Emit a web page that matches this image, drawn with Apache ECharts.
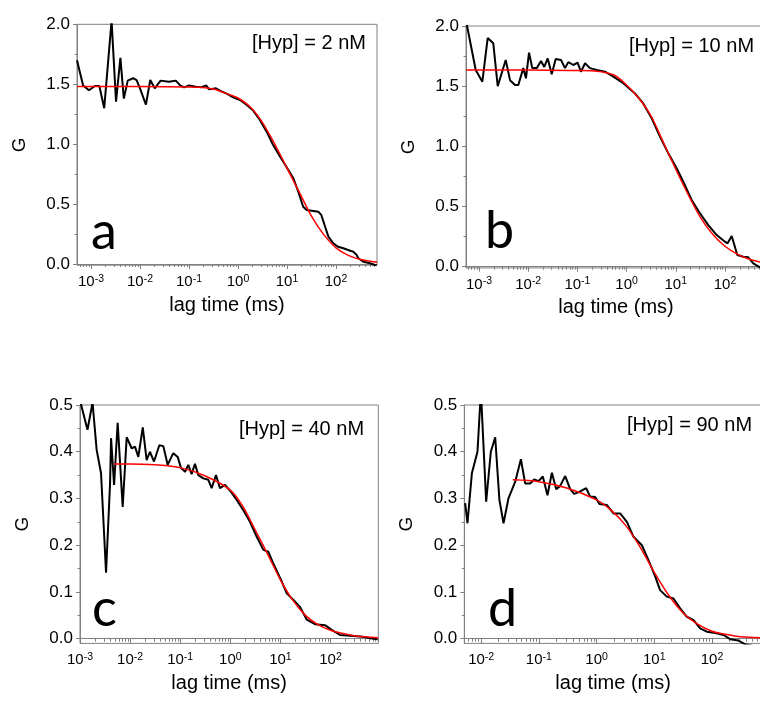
<!DOCTYPE html>
<html>
<head>
<meta charset="utf-8">
<title>FCS autocorrelation curves</title>
<script src="https://cdn.jsdelivr.net/npm/echarts@6/dist/echarts.min.js"></script>
<style>
  html, body { margin: 0; padding: 0; background: #fff; }
  #chart { width: 760px; height: 702px; }
</style>
</head>
<body>
<div id="chart"></div>
<script>
// ---- measured curves (lag time in ms, G) ----

// panel a, [Hyp] = 2 nM
const lagA = [5.18e-4, 6.9e-4, 9.1e-4, 1.2e-3, 1.48e-3, 1.86e-3, 2.63e-3, 3.24e-3, 3.98e-3, 4.68e-3,
  5.62e-3, 7.24e-3, 8.51e-3, 0.01, 0.0132, 0.0162, 0.02, 0.0263, 0.0389, 0.0537,
  0.0661, 0.0794, 0.1, 0.138, 0.174, 0.224, 0.257, 0.355, 0.447, 0.617,
  0.794, 1.1, 1.51, 2.04, 2.82, 3.89, 5.25, 7.24, 9.77, 13.5,
  17, 21.4, 25.2, 43.6, 50, 60, 70, 88, 110, 141,
  195, 225, 260, 285, 361, 494, 625, 680]
const gA = [1.70, 1.49, 1.45, 1.485, 1.485, 1.30, 2.03, 1.354, 1.72, 1.38,
  1.53, 1.55, 1.535, 1.466, 1.33, 1.535, 1.466, 1.53, 1.52, 1.53,
  1.49, 1.474, 1.49, 1.48, 1.474, 1.49, 1.457, 1.466, 1.443, 1.418,
  1.39, 1.368, 1.327, 1.28, 1.2, 1.1, 0.99, 0.895, 0.81, 0.715,
  0.603, 0.478, 0.45, 0.436, 0.41, 0.311, 0.228, 0.173, 0.144, 0.131,
  0.111, 0.103, 0.08, 0.048, 0.019, 0.006, -0.008, -0.01]
const fitLagA = [5.2e-4, 0.01, 0.1, 0.17, 0.316, 0.69, 1, 1.78, 3.16, 5.62, 10, 17.8, 31.6, 56.2, 100, 178, 316, 690]
const fitA = [1.48, 1.48, 1.477, 1.474, 1.46, 1.41, 1.385, 1.31, 1.18, 1.0, 0.8, 0.6, 0.4, 0.245, 0.135, 0.072, 0.038, 0.014]

// panel b, [Hyp] = 10 nM
const lagB = [5.6e-4, 8.57e-4, 1.17e-3, 1.5e-3, 1.95e-3, 2.4e-3, 3.49e-3, 4.27e-3, 5.39e-3, 6.3e-3,
  7.94e-3, 9.0e-3, 0.0104, 0.0121, 0.0149, 0.0182, 0.0212, 0.0249, 0.0301, 0.0362,
  0.0464, 0.056, 0.0653, 0.0826, 0.101, 0.118, 0.143, 0.18, 0.247, 0.364,
  0.537, 0.857, 1.48, 2.18, 3.24, 4.79, 7.05, 10.4, 14.2, 21,
  31, 45.8, 67.8, 100, 113, 137, 178, 236, 298, 376,
  514, 690]
const gB = [2.02, 1.634, 1.537, 1.90, 1.856, 1.50, 1.717, 1.55, 1.51, 1.51,
  1.65, 1.565, 1.778, 1.65, 1.65, 1.71, 1.66, 1.73, 1.60, 1.726,
  1.717, 1.65, 1.70, 1.676, 1.695, 1.62, 1.69, 1.65, 1.634, 1.62,
  1.58, 1.524, 1.44, 1.357, 1.233, 1.08, 0.942, 0.818, 0.706, 0.554,
  0.444, 0.346, 0.263, 0.208, 0.194, 0.255, 0.097, 0.083, 0.078, 0.028,
  -0.005, -0.012]
const fitLagB = [5.5e-4, 0.01, 0.1, 0.25, 0.54, 0.86, 1.78, 3.16, 5.62, 10, 17.8, 31.6, 56.2, 100, 178, 316, 700]
const fitB = [1.635, 1.635, 1.63, 1.625, 1.595, 1.535, 1.40, 1.25, 1.03, 0.81, 0.60, 0.41, 0.27, 0.17, 0.105, 0.062, 0.028]

// panel c, [Hyp] = 40 nM
const lagC = [1.0e-3, 1.41e-3, 1.78e-3, 2.15e-3, 2.63e-3, 3.31e-3, 3.98e-3, 4.17e-3, 4.79e-3, 5.65e-3,
  7.11e-3, 8.55e-3, 0.0108, 0.0125, 0.0146, 0.0179, 0.0214, 0.0249, 0.03, 0.0383,
  0.046, 0.0562, 0.0728, 0.0891, 0.104, 0.125, 0.145, 0.169, 0.197, 0.23,
  0.289, 0.364, 0.424, 0.518, 0.622, 0.783, 1.02, 1.34, 1.82, 2.47,
  3.37, 4.57, 5.75, 7.21, 10.3, 13.4, 18.2, 24.6, 33.5, 49,
  77.6, 106, 155, 286, 452, 617, 875]
const gC = [0.51, 0.447, 0.505, 0.404, 0.354, 0.141, 0.332, 0.429, 0.329, 0.462,
  0.282, 0.431, 0.407, 0.411, 0.389, 0.452, 0.382, 0.40, 0.379, 0.414,
  0.412, 0.372, 0.397, 0.389, 0.365, 0.357, 0.372, 0.352, 0.374, 0.35,
  0.343, 0.34, 0.322, 0.35, 0.322, 0.329, 0.315, 0.297, 0.275, 0.25,
  0.218, 0.19, 0.186, 0.161, 0.126, 0.097, 0.083, 0.068, 0.041, 0.031,
  0.029, 0.019, 0.008, 0.006, 0.004, 0.001, -0.001]
const fitLagC = [4.8e-3, 0.01, 0.0316, 0.1, 0.316, 1, 1.78, 3.16, 5.62, 10, 17.8, 31.6, 56.2, 100, 178, 316, 890]
const fitC = [0.374, 0.374, 0.372, 0.366, 0.348, 0.318, 0.283, 0.232, 0.18, 0.126, 0.082, 0.05, 0.03, 0.018, 0.011, 0.006, 0.002]

// panel d, [Hyp] = 90 nM
const lagD = [5.28e-3, 5.79e-3, 6.9e-3, 8.63e-3, 9.89e-3, 0.0107, 0.0122, 0.0147, 0.0175, 0.0207,
  0.0244, 0.0297, 0.0389, 0.0488, 0.0579, 0.0706, 0.083, 0.0984, 0.117, 0.141,
  0.168, 0.2, 0.234, 0.286, 0.349, 0.409, 0.52, 0.661, 0.774, 0.946,
  1.12, 1.51, 1.96, 2.56, 3.35, 4.37, 6.1, 7.94, 10.4, 12.6,
  16.5, 21.5, 28.1, 36.7, 47.9, 62.4, 81.3, 106, 158, 207,
  288, 376, 500]
const gD = [0.29, 0.247, 0.354, 0.40, 0.53, 0.53, 0.293, 0.40, 0.431, 0.297,
  0.247, 0.30, 0.336, 0.384, 0.332, 0.332, 0.341, 0.337, 0.347, 0.307,
  0.355, 0.32, 0.327, 0.348, 0.32, 0.31, 0.315, 0.322, 0.304, 0.303,
  0.288, 0.286, 0.268, 0.268, 0.25, 0.218, 0.20, 0.168, 0.133, 0.104,
  0.09, 0.086, 0.065, 0.047, 0.04, 0.022, 0.015, 0.013, 0.008, -0.001,
  -0.004, -0.012, -0.015]
const fitLagD = [0.0355, 0.1, 0.316, 1, 1.78, 3.16, 5.62, 10, 17.8, 31.6, 56.2, 100, 178, 316, 745]
const fitD = [0.34, 0.336, 0.322, 0.297, 0.275, 0.243, 0.197, 0.142, 0.093, 0.055, 0.031, 0.016, 0.009, 0.004, 0.002]

// tick values
const xTicks = [1e-3, 1e-2, 1e-1, 1, 10, 100]
const yTicksHigh = [0, 0.5, 1, 1.5, 2]
const yMinorHigh = [0.25, 0.75, 1.25, 1.75]
const yTicksLow = [0, 0.1, 0.2, 0.3, 0.4, 0.5]
const yMinorLow = [0.05, 0.15, 0.25, 0.35, 0.45]

// panel layout (pixels of the 760x702 canvas)
const panels = [
  { lag: lagA, g: gA, fitLag: fitLagA, fit: fitA, xMin: 5.18e-4, xMax: 687, yMax: 2,
    yTicks: yTicksHigh, yMinor: yMinorHigh,
    box: { left: 77, top: 24.3, width: 300, height: 240.9 },
    letter: 'a', letterPos: [91, 232], conc: '[Hyp] = 2 nM', concPos: [252, 43] },
  { lag: lagB, g: gB, fitLag: fitLagB, fit: fitB, xMin: 5.44e-4, xMax: 682, yMax: 2,
    yTicks: yTicksHigh, yMinor: yMinorHigh,
    box: { left: 466, top: 26, width: 300, height: 241.9 },
    letter: 'b', letterPos: [485, 231], conc: '[Hyp] = 10 nM', concPos: [629, 46] },
  { lag: lagC, g: gC, fitLag: fitLagC, fit: fitC, xMin: 1e-3, xMax: 900, yMax: 0.5,
    yTicks: yTicksLow, yMinor: yMinorLow,
    box: { left: 80, top: 405, width: 298.3, height: 238.4 },
    letter: 'c', letterPos: [92, 609], conc: '[Hyp] = 40 nM', concPos: [239, 429] },
  { lag: lagD, g: gD, fitLag: fitLagD, fit: fitD, xMin: 5.1e-3, xMax: 736, yMax: 0.5,
    yTicks: yTicksLow, yMinor: yMinorLow,
    box: { left: 464.3, top: 405, width: 297.7, height: 238.4 },
    letter: 'd', letterPos: [488, 609], conc: '[Hyp] = 90 nM', concPos: [627, 425] },
]

const axisGray = '#808080'
const font = 'Liberation Sans'

// minor ticks of a log axis: 2..9 x 10^n inside the range
const logMinors = (min, max) => {
  const out = []
  for (let e = Math.floor(Math.log10(min)); e <= Math.ceil(Math.log10(max)); e++) {
    for (let k = 2; k <= 9; k++) {
      const v = k * Math.pow(10, e)
      if (v >= min && v <= max) out.push(v)
    }
  }
  return out
}

const zip = (xs, ys) => xs.map((x, i) => [x, ys[i]])

const grid = []
const xAxis = []
const yAxis = []
const series = []
const graphic = []

panels.forEach((p, i) => {
  grid.push({
    ...p.box,
    show: true,
    borderColor: axisGray,
    borderWidth: 1,
    backgroundColor: 'transparent',
    containLabel: false,
    outerBoundsMode: 'none',
  })

  const majors = xTicks.filter(v => v >= p.xMin && v <= p.xMax)

  // main x axis (major ticks + labels)
  xAxis.push({
    type: 'log',
    logBase: 10,
    gridIndex: i,
    position: 'bottom',
    min: p.xMin,
    max: p.xMax,
    axisLine: { lineStyle: { color: axisGray, width: 1 } },
    axisTick: { customValues: majors, length: 5, lineStyle: { color: axisGray } },
    axisLabel: {
      customValues: majors,
      margin: 8,
      fontSize: 15,
      fontFamily: font,
      color: '#000',
      formatter: v => '{b|10}{s|' + Math.round(Math.log10(v)) + '}',
      rich: {
        b: { fontSize: 15, fontFamily: font, color: '#000', lineHeight: 17 },
        s: { fontSize: 10.5, fontFamily: font, color: '#000', verticalAlign: 'top', lineHeight: 12 },
      },
    },
    splitLine: { show: false },
    name: 'lag time (ms)',
    nameLocation: 'middle',
    nameGap: 30,
    nameTextStyle: { fontSize: 20, fontFamily: font, color: '#000' },
  })
  // overlay x axis for log minor ticks
  xAxis.push({
    type: 'log',
    logBase: 10,
    gridIndex: i,
    position: 'bottom',
    min: p.xMin,
    max: p.xMax,
    axisLine: { show: false },
    axisTick: { customValues: logMinors(p.xMin, p.xMax), length: 3, lineStyle: { color: axisGray } },
    axisLabel: { show: false },
    splitLine: { show: false },
  })

  yAxis.push({
    type: 'value',
    gridIndex: i,
    position: 'left',
    min: -0.01,
    max: p.yMax,
    axisLine: { show: true, lineStyle: { color: axisGray, width: 1 } },
    axisTick: { show: true, customValues: p.yTicks, length: 4, lineStyle: { color: axisGray } },
    axisLabel: {
      customValues: p.yTicks,
      margin: 7,
      formatter: v => v.toFixed(1),
      fontSize: 17,
      fontFamily: font,
      color: '#000',
    },
    splitLine: { show: false },
    name: 'G',
    nameLocation: 'middle',
    nameGap: 48,
    nameTextStyle: { fontSize: 19, fontFamily: font, color: '#000' },
  })
  yAxis.push({
    type: 'value',
    gridIndex: i,
    position: 'left',
    min: -0.01,
    max: p.yMax,
    axisLine: { show: false },
    axisTick: { show: true, customValues: p.yMinor, length: 2.5, lineStyle: { color: axisGray } },
    axisLabel: { show: false },
    splitLine: { show: false },
  })

  // measured curve
  series.push({
    type: 'line',
    xAxisIndex: 2 * i,
    yAxisIndex: 2 * i,
    data: zip(p.lag, p.g),
    symbol: 'none',
    clip: true,
    lineStyle: { color: '#000', width: 2 },
    z: 2,
  })
  // fitted curve
  series.push({
    type: 'line',
    xAxisIndex: 2 * i,
    yAxisIndex: 2 * i,
    data: zip(p.fitLag, p.fit),
    symbol: 'none',
    smooth: 0.3,
    clip: true,
    lineStyle: { color: '#ff0000', width: 1.5 },
    z: 3,
  })

  graphic.push({
    type: 'text',
    x: p.letterPos[0],
    y: p.letterPos[1],
    style: { text: p.letter, font: '52px Lato', fill: '#000', textAlign: 'left', textVerticalAlign: 'middle' },
  })
  graphic.push({
    type: 'text',
    x: p.concPos[0],
    y: p.concPos[1],
    style: { text: p.conc, font: '20px "Liberation Sans"', fill: '#000', textAlign: 'left', textVerticalAlign: 'middle' },
  })
})

const myChart = echarts.init(document.getElementById('chart'), null, { renderer: 'canvas' })
myChart.setOption({
  animation: false,
  backgroundColor: '#fff',
  grid,
  xAxis,
  yAxis,
  series,
  graphic,
})
</script>
</body>
</html>
